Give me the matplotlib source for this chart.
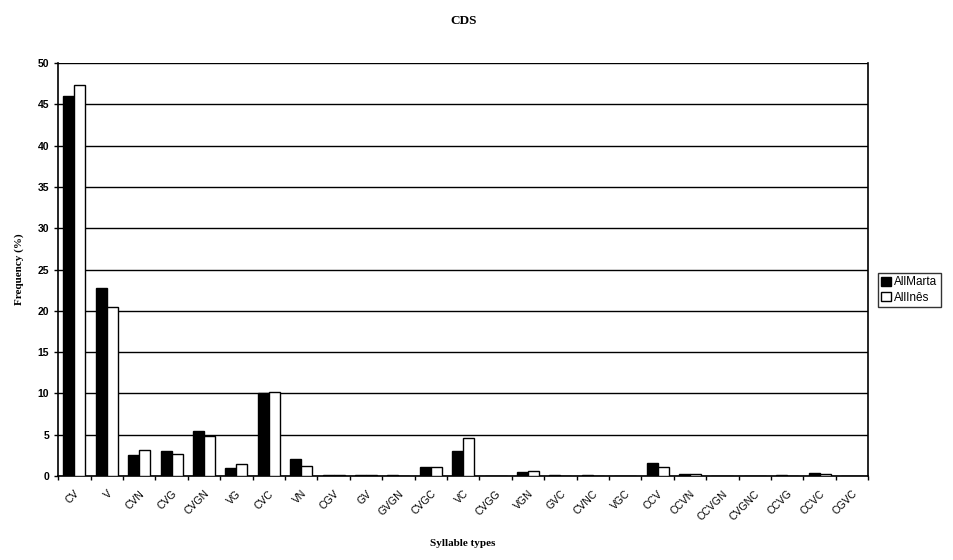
"""Syllable type frequencies (CDS) as grouped black/white bars."""

import matplotlib
matplotlib.use("Agg")
import matplotlib.pyplot as plt
import numpy as np

categories = ["CV", "V", "CVN", "CVG", "CVGN", "VG", "CVC", "VN", "CGV", "GV",
              "GVGN", "CVGC", "VC", "CVGG", "VGN", "GVC", "CVNC", "VGC", "CCV",
              "CCVN", "CCVGN", "CVGNC", "CCVG", "CCVC", "CGVC"]
all_marta = [46.0, 22.7, 2.6, 3.0, 5.5, 1.0, 10.0, 2.0, 0.1, 0.1,
             0.1, 1.1, 3.0, 0.0, 0.5, 0.15, 0.1, 0.0, 1.6,
             0.3, 0.05, 0.0, 0.1, 0.4, 0.0]
all_ines = [47.3, 20.4, 3.1, 2.7, 4.8, 1.4, 10.2, 1.2, 0.1, 0.1,
            0.05, 1.1, 4.6, 0.0, 0.6, 0.05, 0.05, 0.05, 1.1,
            0.2, 0.0, 0.0, 0.05, 0.3, 0.0]
series_labels = ["AllMarta", "AllInês"]
y_ticks = list(range(0, 51, 5))

fig = plt.figure(figsize=(9.54, 5.6), dpi=100)
ax = fig.add_axes([0.061, 0.15, 0.849, 0.7375])

x = np.arange(len(categories))
w = 0.34
ax.bar(x - w / 2, all_marta, width=w, color="black", edgecolor="black",
       linewidth=1.0, label=series_labels[0], zorder=3)
ax.bar(x + w / 2, all_ines, width=w, color="white", edgecolor="black",
       linewidth=1.0, label=series_labels[1], zorder=3)

ax.set_xlim(-0.5, len(categories) - 0.5)
ax.set_ylim(0, 50)
ax.set_yticks(y_ticks)
ax.set_yticklabels([str(t) for t in y_ticks], fontsize=7.5, fontweight="bold",
                   family="Liberation Sans")
ax.set_xticks(x)
ax.set_xticklabels(categories, rotation=45, ha="right", rotation_mode="anchor",
                   fontsize=7.5, family="Liberation Sans")
# small marks between the categories, as in the original
ax.set_xticks(np.arange(-0.5, len(categories), 1.0), minor=True)
ax.tick_params(axis="x", which="major", length=0, pad=9)
ax.tick_params(axis="x", which="minor", direction="out", length=3, width=1)
ax.tick_params(axis="y", direction="out", length=3, width=1)
ax.grid(axis="y", color="black", linewidth=1.0, zorder=0)

ax.spines["top"].set_visible(False)
for side in ["left", "right", "bottom"]:
    ax.spines[side].set_linewidth(1.2)

ax.set_title("CDS", fontsize=9.5, fontweight="bold", family="Liberation Serif", pad=28)
ax.set_xlabel("Syllable types", fontsize=8, fontweight="bold",
              family="Liberation Serif", labelpad=12)
ax.set_ylabel("Frequency (%)", fontsize=8, fontweight="bold",
              family="Liberation Serif", labelpad=10)

leg = ax.legend(loc="center left", bbox_to_anchor=(1.0, 0.45),
                frameon=True, fancybox=False, edgecolor="black",
                handlelength=0.8, handleheight=0.8, handletextpad=0.3,
                borderpad=0.3, labelspacing=0.3, borderaxespad=0.8,
                prop={"family": "Liberation Sans", "size": 8.5})
leg.get_frame().set_linewidth(1.0)

fig.savefig("out.png", dpi=100)
